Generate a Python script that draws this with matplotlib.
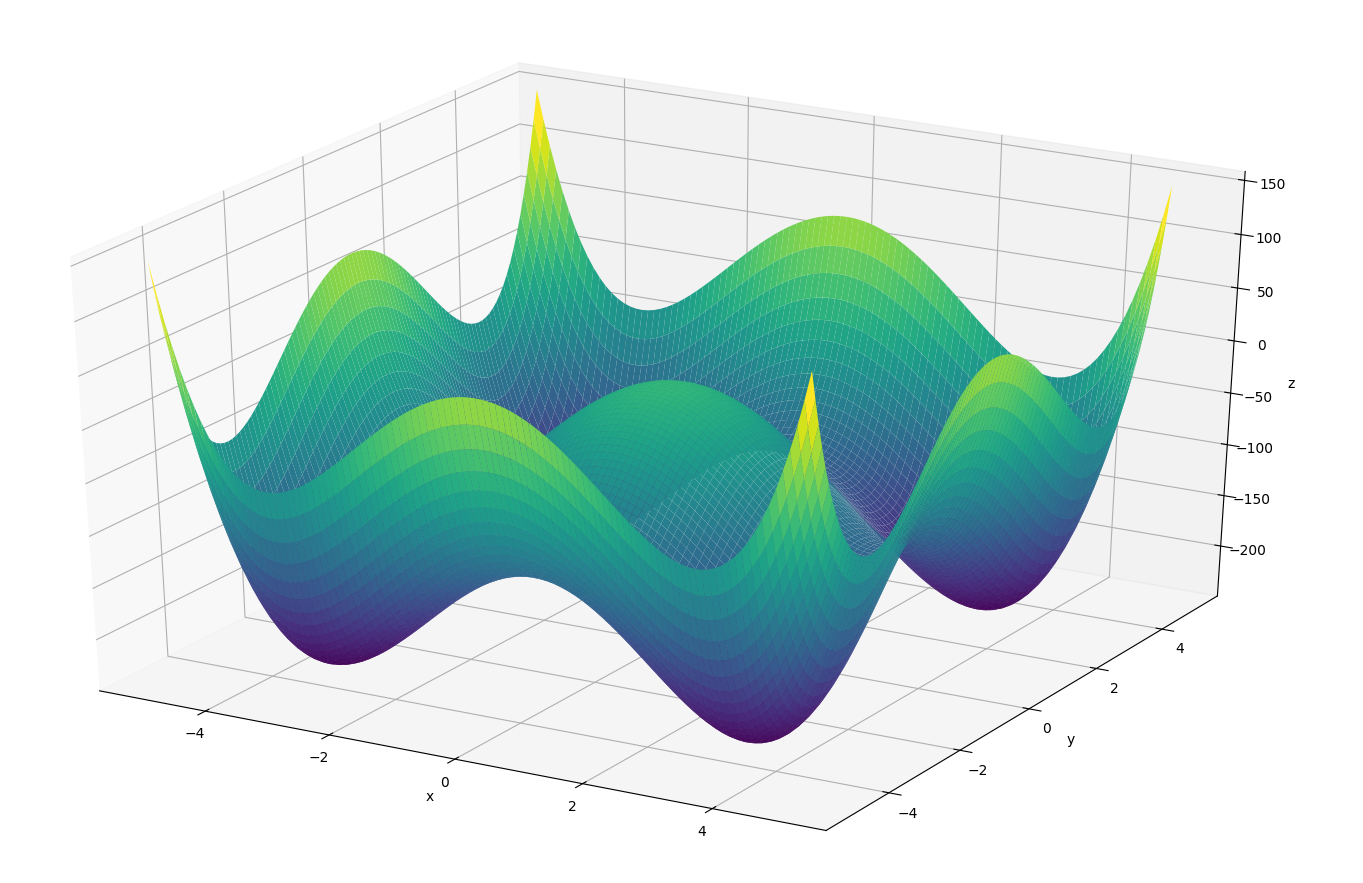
import numpy as np
import matplotlib
matplotlib.use("Agg")
import matplotlib.pyplot as plt

# Surface height contribution of one axis at coordinates 0, 0.1, ... 5
half_coords = [0.0, 0.1, 0.2, 0.3, 0.4, 0.5, 0.6, 0.7, 0.8, 0.9,
               1.0, 1.1, 1.2, 1.3, 1.4, 1.5, 1.6, 1.7, 1.8, 1.9,
               2.0, 2.1, 2.2, 2.3, 2.4, 2.5, 2.6, 2.7, 2.8, 2.9,
               3.0, 3.1, 3.2, 3.3, 3.4, 3.5, 3.6, 3.7, 3.8, 3.9,
               4.0, 4.1, 4.2, 4.3, 4.4, 4.5, 4.6, 4.7, 4.8, 4.9, 5.0]
half_profile = [0.0, -0.22, -0.88, -1.97, -3.49, -5.44, -7.79, -10.54, -13.67, -17.16,
                -21.0, -25.16, -29.61, -34.32, -39.28, -44.44, -49.77, -55.23, -60.78, -66.39,
                -72.0, -77.57, -83.05, -88.4, -93.54, -98.44, -103.02, -107.24, -111.01, -114.29,
                -117.0, -119.07, -120.42, -120.99, -120.69, -119.44, -117.16, -113.76, -109.17, -103.28,
                -96.0, -87.24, -76.91, -64.9, -51.11, -35.44, -17.77, 1.99, 23.96, 48.26, 75.0]
z_ticks = [-200, -150, -100, -50, 0, 50, 100, 150]

coords = np.array([-c for c in half_coords[:0:-1]] + half_coords)
profile = np.array(half_profile[:0:-1] + half_profile)
X, Y = np.meshgrid(coords, coords)
Z = profile[np.newaxis, :] + profile[:, np.newaxis]

fig = plt.figure(figsize=(13.63, 8.83), dpi=100)
ax = fig.add_axes([-0.0949, -0.0235, 1.138, 1.037], projection='3d')
ax.apply_aspect = lambda position=None: None
ax.set_box_aspect((1, 1, 1), zoom=0.909)
ax.plot_surface(X, Y, Z, cmap='viridis', rstride=1, cstride=1, linewidth=0, antialiased=True)
zl = ax.get_zlim()
ax.set_zticks(z_ticks)
ax.set_zlim(zl)
ax.set_xlabel('x', labelpad=5.5)
ax.set_ylabel('y', labelpad=5.5)
ax.set_zlabel('z')
fig.savefig('out.png', dpi=100)
